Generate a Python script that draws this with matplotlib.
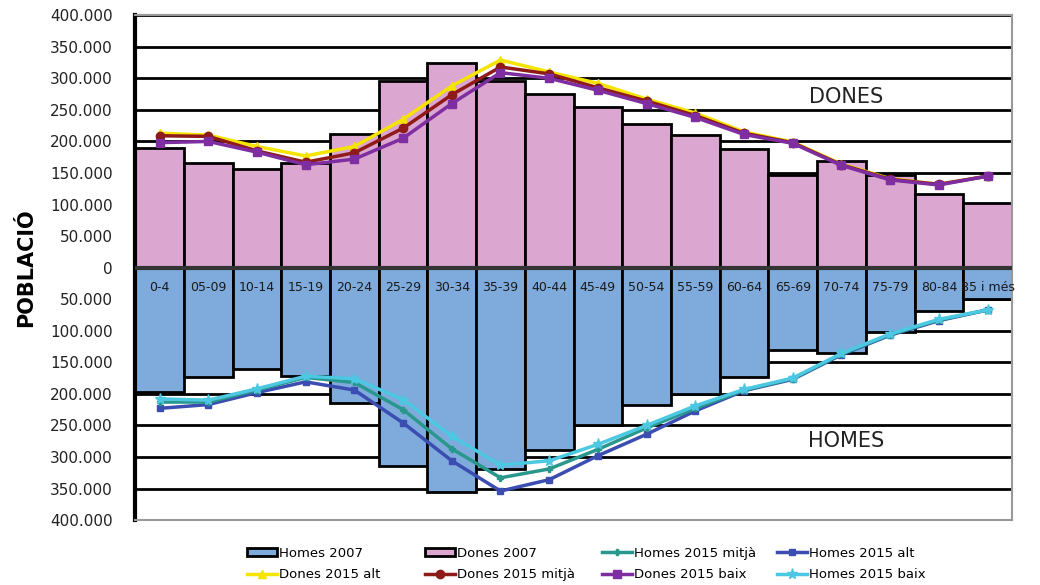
import numpy as np
import matplotlib
matplotlib.use("Agg")
import matplotlib.pyplot as plt
from matplotlib.ticker import FuncFormatter

categories = ["0-4", "05-09", "10-14", "15-19", "20-24", "25-29", "30-34", "35-39",
              "40-44", "45-49", "50-54", "55-59", "60-64", "65-69", "70-74", "75-79",
              "80-84", "85 i més"]

dones_2007 = [190000, 166000, 156000, 166000, 212000, 295000, 324000, 295000, 275000,
              255000, 227000, 210000, 188000, 147000, 169000, 147000, 116000, 102000]
homes_2007 = [197000, 173000, 161000, 172000, 215000, 314000, 356000, 319000, 289000,
              249000, 217000, 200000, 173000, 131000, 136000, 102000, 69000, 49000]

dones_2015_alt = [213000, 210000, 192000, 177000, 192000, 235000, 288000, 329000, 310000,
                  292000, 267000, 245000, 215000, 199000, 164000, 141000, 132000, 145000]
dones_2015_mitja = [209000, 208000, 185000, 167000, 182000, 221000, 274000, 318000, 307000,
                    285000, 264000, 241000, 213000, 198000, 163000, 140000, 132000, 145000]
dones_2015_baix = [198000, 200000, 183000, 163000, 172000, 205000, 260000, 309000, 300000,
                   281000, 260000, 238000, 211000, 197000, 162000, 139000, 131000, 145000]

homes_2015_alt = [223000, 217000, 198000, 181000, 194000, 246000, 306000, 354000, 336000,
                  298000, 264000, 227000, 195000, 177000, 138000, 107000, 84000, 67000]
homes_2015_mitja = [213000, 213000, 194000, 174000, 182000, 225000, 287000, 333000, 319000,
                    288000, 254000, 223000, 194000, 176000, 137000, 106000, 83000, 67000]
homes_2015_baix = [208000, 210000, 192000, 172000, 176000, 209000, 267000, 313000, 306000,
                   280000, 250000, 219000, 193000, 175000, 136000, 105000, 82000, 67000]

y_ticks = list(range(-400000, 400001, 50000))

PINK = "#dba6cf"
BLUE = "#7eaadc"
YELLOW = "#f5e400"
DARKRED = "#8e1a1a"
PURPLE = "#7e2ea0"
TEAL = "#2a978c"
DARKBLUE = "#3b4db0"
CYAN = "#4cc8e2"

fig = plt.figure(figsize=(10.4, 5.85), dpi=100)
ax = fig.add_axes([0.130, 0.111, 0.843, 0.863])

x = np.arange(len(categories))

for yt in y_ticks:
    ax.axhline(yt, color="black", lw=2.0, zorder=0)

b1 = ax.bar(x, dones_2007, width=1.0, color=PINK, edgecolor="black", linewidth=2.0,
            zorder=2, label="Dones 2007")
b2 = ax.bar(x, [-v for v in homes_2007], width=1.0, color=BLUE, edgecolor="black",
            linewidth=2.0, zorder=2, label="Homes 2007")
ax.axhline(0, color="#333333", lw=3, zorder=3)

l_da, = ax.plot(x, dones_2015_alt, color=YELLOW, lw=2.5, marker="^", ms=6, zorder=4,
                label="Dones 2015 alt")
l_dm, = ax.plot(x, dones_2015_mitja, color=DARKRED, lw=2.5, marker="o", ms=6, zorder=5,
                label="Dones 2015 mitjà")
l_db, = ax.plot(x, dones_2015_baix, color=PURPLE, lw=2.5, marker="s", ms=6, zorder=6,
                label="Dones 2015 baix")
l_ha, = ax.plot(x, [-v for v in homes_2015_alt], color=DARKBLUE, lw=2.5, marker="s", ms=4,
                zorder=4, label="Homes 2015 alt")
l_hm, = ax.plot(x, [-v for v in homes_2015_mitja], color=TEAL, lw=2.5, marker="P", ms=5,
                zorder=5, label="Homes 2015 mitjà")
l_hb, = ax.plot(x, [-v for v in homes_2015_baix], color=CYAN, lw=2.5, marker="*", ms=8,
                zorder=6, label="Homes 2015 baix")

for xi, c in zip(x, categories):
    ax.text(xi, -31000, c, ha="center", va="center", fontsize=9, color="#1a1a1a", zorder=7)

ax.text(14.1, 270000, "DONES", ha="center", va="center", fontsize=15, color="#222222")
ax.text(14.1, -275000, "HOMES", ha="center", va="center", fontsize=15, color="#222222")

ax.set_xlim(-0.5, len(categories) - 0.5)
ax.set_ylim(-400000, 400000)
ax.set_yticks(y_ticks)
ax.yaxis.set_major_formatter(FuncFormatter(lambda v, p: f"{abs(int(v)):,}".replace(",", ".")))
ax.tick_params(axis="y", length=0, labelsize=11, pad=16, labelcolor="#222222")
ax.set_xticks([])
ax.set_ylabel("POBLACIÓ", fontsize=15, fontweight="bold", labelpad=10)

for s in ["top", "right", "bottom"]:
    ax.spines[s].set_color("#999999")
    ax.spines[s].set_linewidth(1.5)
ax.spines["left"].set_color("black")
ax.spines["left"].set_linewidth(3)

columns = [(b2, l_da), (b1, l_dm), (l_hm, l_db), (l_ha, l_hb)]
col_x_px = [247, 425, 602, 777]
for (h1, h2), xp in zip(columns, col_x_px):
    fig.legend([h1, h2], [h1.get_label(), h2.get_label()], loc="center left",
               bbox_to_anchor=(xp / 1040, 1 - 564 / 585), ncol=1, frameon=False,
               handlelength=2.3, handleheight=0.6, handletextpad=0.15,
               labelspacing=0.65, borderpad=0, borderaxespad=0, fontsize=9.5)

fig.savefig("out.png", dpi=100)
